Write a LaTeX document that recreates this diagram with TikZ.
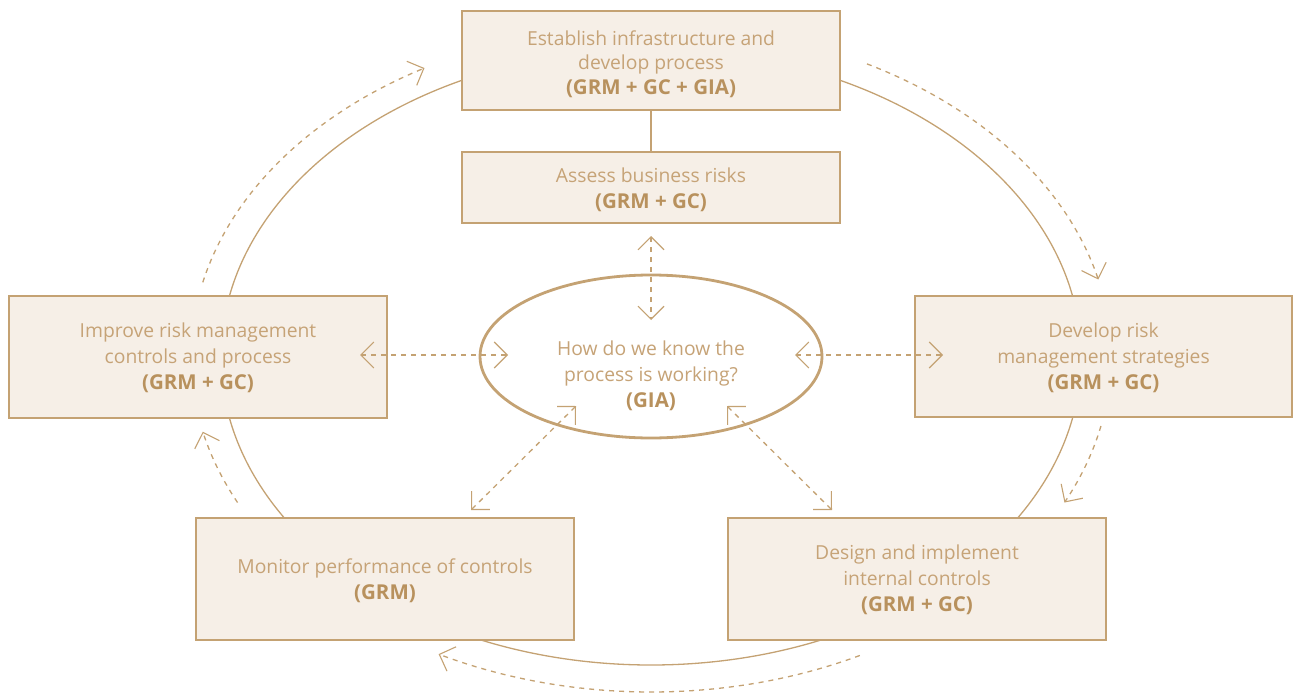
\documentclass[tikz,border=0pt]{standalone}
\usepackage{fontspec}
\setmainfont{Open Sans}
\usetikzlibrary{arrows.meta,shapes.geometric}
\definecolor{bord}{HTML}{C4A273}
\definecolor{boxfill}{HTML}{F6EFE7}
\definecolor{txt}{HTML}{C6A377}
\definecolor{btxt}{HTML}{B8915D}
\tikzset{barb/.tip={Straight Barb[length=13pt,width=26pt,line width=1.1pt]}}
\newcommand{\bl}[1]{{\fontsize{20.5}{24.5}\selectfont\bfseries\color{btxt}#1}}
\begin{document}
\begin{tikzpicture}[x=1pt,y=-1pt,
  box/.style={draw=bord, line width=2pt, fill=boxfill, minimum width=378pt, align=center, text=txt, inner sep=0pt, font=\fontsize{19.3}{24.5}\selectfont},
  lbl/.style={align=center, text=txt, inner sep=0pt, font=\fontsize{19.3}{26.2}\selectfont},
  dar/.style={draw=bord, line width=1.3pt, dash pattern=on 5pt off 5pt},
  ring/.style={draw=bord, line width=1.3pt}
]
\useasboundingbox (0,0) rectangle (1293,693);
% big ring behind
\draw[ring] (651,357) ellipse [x radius=430pt, y radius=308pt];
% boxes
\node[box, minimum height=99pt] (top) at (651,60.5) {};
\node[box, minimum height=71pt] (assess) at (651,187.5) {};
\node[box, minimum height=122pt] (improve) at (198,357) {};
\node[box, minimum height=121pt, minimum width=377pt] (develop) at (1103.5,356.5) {};
\node[box, minimum height=122pt] (monitor) at (385,579) {};
\node[box, minimum height=122pt] (design) at (917,579) {};
\node[box, draw=none, fill=none] at ([yshift=-3.5pt]top.center) {Establish infrastructure and\\develop process\\\bl{(GRM + GC + GIA)}};
\node[lbl] at ([yshift=-2.5pt]assess.center) {Assess business risks\\\bl{(GRM + GC)}};
\node[lbl] at ([yshift=-1pt]improve.center) {Improve risk management\\controls and process\\\bl{(GRM + GC)}};
\node[lbl] at ([yshift=-1pt]develop.center) {Develop risk\\management strategies\\\bl{(GRM + GC)}};
\node[lbl] at ([yshift=-1.5pt]monitor.center) {Monitor performance of controls\\\bl{(GRM)}};
\node[lbl] at ([yshift=-1pt]design.center) {Design and implement\\internal controls\\\bl{(GRM + GC)}};
\draw[draw=bord, line width=1.3pt] (top.south) -- (assess.north);
% centre ellipse
\node[ellipse, draw=bord, line width=2.8pt, fill=white, minimum width=342pt, minimum height=163pt, inner sep=0pt] (hub) at (651,356.5) {};
\node[lbl] (hubtxt) at (651,376) {How do we know the\\process is working?\\\bl{(GIA)}};
% straight dashed double arrows
\coordinate (v1) at (651,236); \coordinate (v2) at (651,320);
\coordinate (l1) at (360,355); \coordinate (l2) at (508,355);
\coordinate (r1) at (795,355); \coordinate (r2) at (943,355);
\coordinate (dl1) at (576,406); \coordinate (dl2) at (471,510);
\coordinate (dr1) at (727,406); \coordinate (dr2) at (832,510);
\draw[dar,{barb}-{barb}] (v1) -- (v2);
\draw[dar,{barb}-{barb}] (l1) -- (l2);
\draw[dar,{barb}-{barb}] (r1) -- (r2);
\draw[dar,{barb}-{barb}] (dl1) -- (dl2);
\draw[dar,{barb}-{barb}] (dr1) -- (dr2);
% curved dashed arrows
\draw[dar,-{barb}] plot[domain=167:119.5, samples=60, smooth] ({651+460*cos(\x)},{357-332*sin(\x)});
\draw[dar,-{barb}] plot[domain=62:13.5, samples=60, smooth] ({651+460*cos(\x)},{357-332*sin(\x)});
\draw[dar,-{barb}] plot[domain=-12:-26, samples=30, smooth] ({651+460*cos(\x)},{357-332*sin(\x)});
\draw[dar,-{barb}] plot[domain=-63:-117.5, samples=60, smooth] ({651+460*cos(\x)},{357-335*sin(\x)});
\draw[dar,-{barb}] plot[domain=206:193, samples=30, smooth] ({651+460*cos(\x)},{357-332*sin(\x)});
\end{tikzpicture}
\end{document}
